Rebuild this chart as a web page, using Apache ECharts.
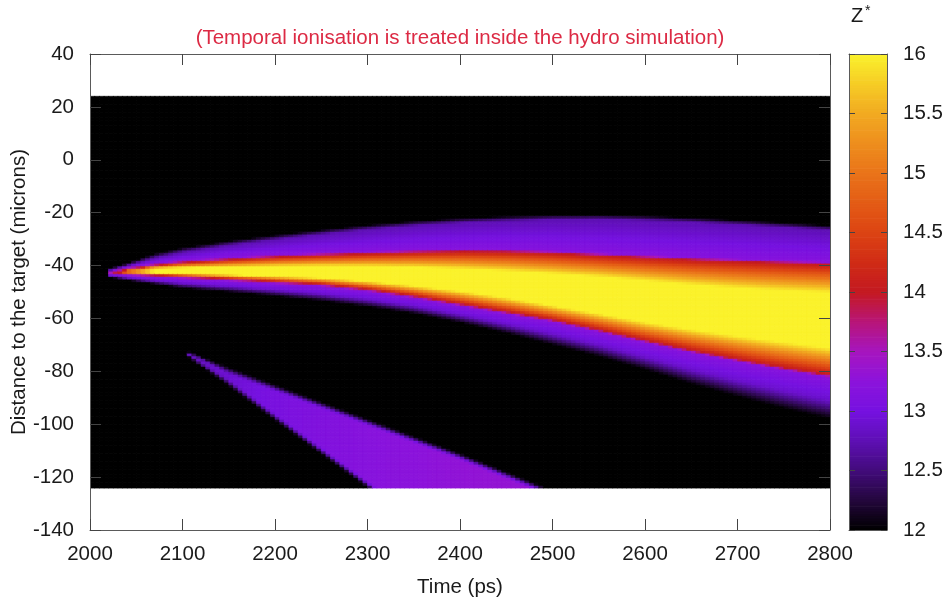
<!DOCTYPE html>
<html>
<head>
<meta charset="utf-8">
<script src="https://cdn.jsdelivr.net/npm/echarts@6/dist/echarts.min.js"></script>
<style>
  html, body { margin: 0; padding: 0; background: #ffffff; }
  #chart { width: 949px; height: 608px; }
</style>
</head>
<body>
<div id="chart"></div>
<script>
// ---- Axis ticks ----
const timeTicks = [2000, 2100, 2200, 2300, 2400, 2500, 2600, 2700, 2800];
const distTicks = [-140, -120, -100, -80, -60, -40, -20, 0, 20, 40];
const zTicks = [12, 12.5, 13, 13.5, 14, 14.5, 15, 15.5, 16];

// ---- Simulated domain (ps, microns) and cell size ----
const fieldTime = [2000, 2800];
const fieldDist = [-124, 24];
const cellTime = 5;
const cellDist = 1;

// ---- Main plume: band boundaries (microns) at sampled times (ps) ----
const plumeTimes  = [2022, 2040, 2070, 2100, 2150, 2200, 2250, 2300, 2350, 2400, 2450, 2500, 2550, 2600, 2650, 2700, 2750, 2800];
const plumeTop    = [-41.3, -39.5, -35.8, -33.6, -31.0, -28.8, -26.8, -25.0, -23.5, -22.4, -21.7, -21.2, -21.1, -21.5, -22.2, -23.1, -24.1, -25.2];
const redTop      = [-42.0, -40.5, -39.0, -37.9, -36.8, -35.8, -35.1, -34.5, -34.0, -33.7, -33.8, -34.3, -35.2, -36.0, -36.8, -37.4, -38.0, -38.5];
const coreTop     = [-42.5, -41.5, -40.8, -40.6, -40.3, -40.1, -40.0, -40.1, -40.4, -41.0, -41.8, -42.8, -44.0, -45.5, -47.0, -48.3, -49.3, -50.0];
const coreBottom  = [-42.6, -42.3, -42.5, -42.8, -43.3, -43.9, -44.5, -45.8, -47.5, -49.5, -52.0, -55.0, -58.0, -61.2, -64.0, -66.5, -68.8, -71.0];
const redBottom   = [-43.0, -43.5, -44.2, -44.7, -45.6, -46.6, -47.6, -49.5, -52.0, -55.0, -58.0, -61.0, -64.8, -68.8, -72.6, -76.0, -79.2, -82.0];
const plumeBottom = [-44.0, -45.0, -46.5, -48.0, -49.4, -51.0, -52.8, -55.0, -57.6, -61.0, -65.0, -69.4, -73.8, -78.8, -84.2, -89.0, -93.5, -97.5];
const plumePeakZ  = [13.5, 14.8, 16.0, 16.0, 16.0, 16.0, 16.0, 16.0, 16.0, 16.0, 16.0, 16.0, 16.0, 16.0, 16.0, 16.0, 16.0, 16.0];

// ---- Secondary jet: edges (microns) and peak Z* at sampled times (ps) ----
const jetTimes  = [2105, 2200, 2300, 2400, 2500];
const jetTop    = [-72.5, -85.0, -98.0, -111.0, -125.0];
const jetBottom = [-73.5, -98.0, -123.5, -149.0, -174.0];
const jetPeakZ  = [12.8, 13.05, 13.2, 13.3, 13.35];

// ---- Colour scale ----
const zRange = [12, 16];
const zColors = ['#000000', '#24083c', '#420c7a', '#5e10b4', '#7612e0', '#8c14dc', '#a616c0',
                 '#b8167a', '#c41a22', '#d02c16', '#dc4414', '#e45c16', '#ea741a', '#ee8e1e',
                 '#f2aa22', '#f6cc26', '#fbf22c'];

const FONT = "'Liberation Sans', Arial, sans-serif";
const FS = 20.5;

function sampleAt(times, vals, t) {
  if (t <= times[0]) return vals[0];
  const n = times.length;
  if (t >= times[n - 1]) return vals[n - 1];
  for (let i = 0; i < n - 1; i++) {
    if (t <= times[i + 1]) {
      const f = (t - times[i]) / (times[i + 1] - times[i]);
      return vals[i] + f * (vals[i + 1] - vals[i]);
    }
  }
  return vals[n - 1];
}

// piecewise profile along distance; stops ordered from high to low distance
function profileAt(stops, v) {
  if (v > stops[0][0] || v < stops[stops.length - 1][0]) return zRange[0];
  for (let i = 0; i < stops.length - 1; i++) {
    const a = stops[i], b = stops[i + 1];
    if (v <= a[0] && v >= b[0]) {
      const span = a[0] - b[0];
      if (span <= 1e-6) return b[1];
      return a[1] + (a[0] - v) / span * (b[1] - a[1]);
    }
  }
  return zRange[0];
}

function zAt(t, v) {
  let z = zRange[0];
  if (t >= plumeTimes[0]) {
    const T = sampleAt(plumeTimes, plumeTop, t);
    const R1 = sampleAt(plumeTimes, redTop, t);
    const C1 = sampleAt(plumeTimes, coreTop, t);
    const C2 = sampleAt(plumeTimes, coreBottom, t);
    const R2 = sampleAt(plumeTimes, redBottom, t);
    const B = sampleAt(plumeTimes, plumeBottom, t);
    const fTop = Math.min(1.2, (T - R1) * 0.4);
    const fBot = (R2 - B) * 0.45;
    const stops = [
      [T + 0.5, 12.0], [T - fTop, 12.75], [R1, 13.2], [R1 - 0.8, 14.0],
      [C1, 16.0], [C2, 16.0], [R2 + 0.8, 14.0], [R2, 13.2],
      [B + fBot, 12.9], [B - 0.3, 12.0]
    ];
    for (let i = 1; i < stops.length; i++) stops[i][0] = Math.min(stops[i][0], stops[i - 1][0]);
    const peak = sampleAt(plumeTimes, plumePeakZ, t);
    z = Math.max(z, Math.min(profileAt(stops, v), peak));
  }
  if (t >= jetTimes[0]) {
    const a = sampleAt(jetTimes, jetTop, t);
    const b = sampleAt(jetTimes, jetBottom, t);
    if (v <= a + 0.5 && v >= b - 0.5) {
      const half = (a - b) / 2 + 0.5;
      const fade = Math.max(0.6, Math.min(3.0, half * 0.8));
      const s = Math.max(0, Math.min(1, Math.min(a + 0.5 - v, v - b + 0.5) / fade));
      const peak = sampleAt(jetTimes, jetPeakZ, t);
      z = Math.max(z, zRange[0] + (peak - zRange[0]) * s * s * (3 - 2 * s));
    }
  }
  return z;
}

const cells = [];
for (let t = fieldTime[0] + cellTime / 2; t < fieldTime[1]; t += cellTime) {
  for (let v = fieldDist[0] + cellDist / 2; v < fieldDist[1]; v += cellDist) {
    cells.push([t, v, zAt(t, v)]);
  }
}

const barLevels = [];
for (let z = zRange[0] + 0.01; z < zRange[1]; z += 0.02) barLevels.push([0.5, z, z]);

const axisGrey = '#5a5a5a';
const textCol = '#1a1a1a';

function frameAxis(extra) {
  return Object.assign({
    type: 'value',
    axisLine: { show: true, onZero: false, lineStyle: { color: axisGrey, width: 1 } },
    axisTick: { show: true, inside: true, length: 11, lineStyle: { color: '#444', width: 1 } },
    splitLine: { show: false },
    axisLabel: { show: false },
    nameMoveOverlap: false,
    z: 5
  }, extra);
}

const plainLabel = function (v) { return String(v); };

const chart = echarts.init(document.getElementById('chart'), null, { renderer: 'canvas' });
chart.setOption({
  animation: false,
  backgroundColor: '#ffffff',
  grid: [
    { left: 90, top: 54, width: 740, height: 476, containLabel: false, outerBoundsMode: 'none' },
    { left: 849, top: 54, width: 38, height: 476, containLabel: false, outerBoundsMode: 'none' }
  ],
  xAxis: [
    frameAxis({
      gridIndex: 0, position: 'bottom',
      min: timeTicks[0], max: timeTicks[timeTicks.length - 1], interval: timeTicks[1] - timeTicks[0],
      axisLabel: { show: true, color: textCol, fontSize: FS, fontFamily: FONT, margin: 14, formatter: plainLabel },
      name: 'Time (ps)', nameLocation: 'middle', nameGap: 47,
      nameTextStyle: { color: textCol, fontSize: FS, fontFamily: FONT }
    }),
    frameAxis({
      gridIndex: 0, position: 'top',
      min: timeTicks[0], max: timeTicks[timeTicks.length - 1], interval: timeTicks[1] - timeTicks[0]
    }),
    frameAxis({ gridIndex: 1, position: 'bottom', min: 0, max: 1, axisTick: { show: false } }),
    frameAxis({ gridIndex: 1, position: 'top', min: 0, max: 1, axisTick: { show: false } })
  ],
  yAxis: [
    frameAxis({
      gridIndex: 0, position: 'left',
      min: distTicks[0], max: distTicks[distTicks.length - 1], interval: distTicks[1] - distTicks[0],
      axisLabel: { show: true, color: textCol, fontSize: FS, fontFamily: FONT, margin: 16, formatter: plainLabel },
      name: 'Distance to the target (microns)', nameLocation: 'middle', nameGap: 60, nameRotate: 90,
      nameTextStyle: { color: textCol, fontSize: FS, fontFamily: FONT }
    }),
    frameAxis({
      gridIndex: 0, position: 'right',
      min: distTicks[0], max: distTicks[distTicks.length - 1], interval: distTicks[1] - distTicks[0]
    }),
    frameAxis({
      gridIndex: 1, position: 'left',
      min: zTicks[0], max: zTicks[zTicks.length - 1], interval: zTicks[1] - zTicks[0],
      axisTick: { show: true, inside: true, length: 6, lineStyle: { color: '#444', width: 1 } }
    }),
    frameAxis({
      gridIndex: 1, position: 'right',
      min: zTicks[0], max: zTicks[zTicks.length - 1], interval: zTicks[1] - zTicks[0],
      axisTick: { show: true, inside: true, length: 6, lineStyle: { color: '#444', width: 1 } },
      axisLabel: { show: true, color: textCol, fontSize: FS, fontFamily: FONT, margin: 16, formatter: plainLabel }
    })
  ],
  visualMap: {
    show: false,
    type: 'continuous',
    min: zRange[0], max: zRange[1],
    dimension: 2,
    seriesIndex: [0, 1],
    inRange: { color: zColors }
  },
  graphic: [
    {
      type: 'text', x: 460, y: 38, z: 10,
      style: {
        text: '(Temporal ionisation is treated inside the hydro simulation)',
        fill: '#dc2a44', font: FS + 'px ' + FONT, textAlign: 'center', textVerticalAlign: 'middle'
      }
    },
    {
      type: 'text', x: 851, y: 16, z: 10,
      style: { text: 'Z', fill: textCol, font: '20px ' + FONT, textAlign: 'left', textVerticalAlign: 'middle' }
    },
    {
      type: 'text', x: 865, y: 11, z: 10,
      style: { text: '*', fill: textCol, font: '14px ' + FONT, textAlign: 'left', textVerticalAlign: 'middle' }
    }
  ],
  series: [
    {
      type: 'custom',
      xAxisIndex: 0, yAxisIndex: 0,
      clip: true,
      progressive: 0,
      encode: { x: 0, y: 1 },
      data: cells,
      renderItem: function (params, api) {
        const t = api.value(0), v = api.value(1);
        const p0 = api.coord([t - cellTime / 2, v + cellDist / 2]);
        const p1 = api.coord([t + cellTime / 2, v - cellDist / 2]);
        const c = api.visual('color');
        return {
          type: 'rect',
          shape: { x: p0[0], y: p0[1], width: p1[0] - p0[0] + 0.4, height: p1[1] - p0[1] + 0.4 },
          style: { fill: c, stroke: c, lineWidth: 0.6 }
        };
      }
    },
    {
      type: 'custom',
      xAxisIndex: 2, yAxisIndex: 2,
      clip: true,
      progressive: 0,
      encode: { x: 0, y: 1 },
      data: barLevels,
      renderItem: function (params, api) {
        const z = api.value(1);
        const p0 = api.coord([0, z + 0.01]);
        const p1 = api.coord([1, z - 0.01]);
        const c = api.visual('color');
        return {
          type: 'rect',
          shape: { x: p0[0], y: p0[1], width: p1[0] - p0[0], height: p1[1] - p0[1] + 0.6 },
          style: { fill: c, stroke: c, lineWidth: 0.4 }
        };
      }
    }
  ]
});
</script>
</body>
</html>
